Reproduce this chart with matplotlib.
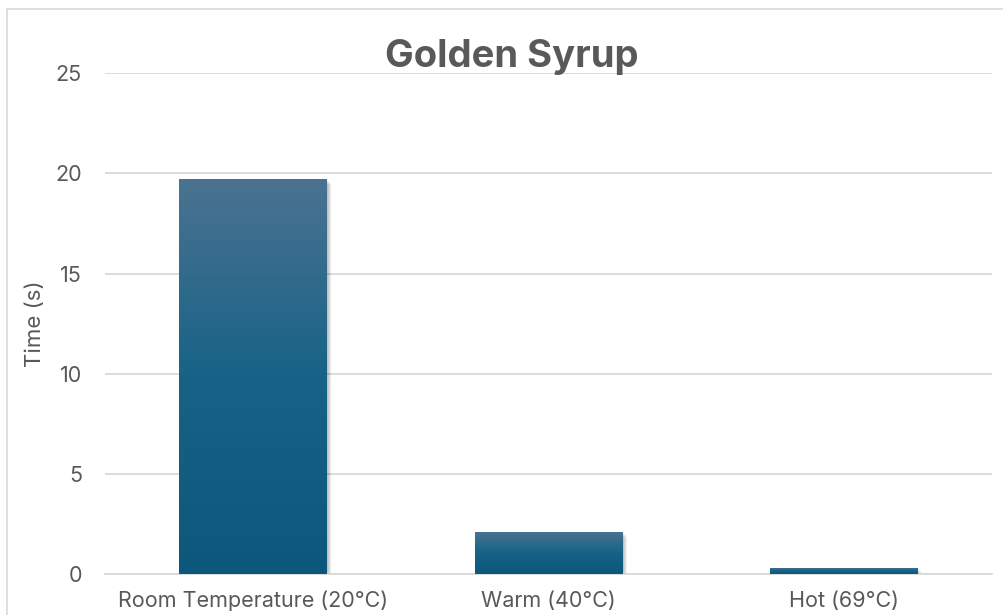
import numpy as np
import matplotlib

matplotlib.use("Agg")
import matplotlib.pyplot as plt
from matplotlib.colors import LinearSegmentedColormap
from matplotlib.patches import Rectangle
import matplotlib.transforms as mtransforms

categories = ["Room Temperature (20°C)", "Warm (40°C)", "Hot (69°C)"]
times = [19.7, 2.1, 0.3]
y_ticks = [0, 5, 10, 15, 20, 25]

TEXT = "#595959"
GRID = "#d9d9d9"
plt.rcParams["font.family"] = ["Inter", "DejaVu Sans"]

fig = plt.figure(figsize=(10.04, 6.15), dpi=100)
ax = fig.add_axes([105 / 1004, 1 - 574.3 / 615, (992 - 105) / 1004, (574.3 - 73) / 615])

# chart border
fig.patches.append(Rectangle((7 / 1004, -0.1), 1.2, 1 - 9 / 615 + 0.1, transform=fig.transFigure,
                             fill=False, edgecolor=GRID, linewidth=1.2))

gradient = LinearSegmentedColormap.from_list(
    "bar", [(0.0, "#0c587c"), (0.5, "#176387"), (1.0, "#4b7391")])

width = 0.5
x = np.arange(len(categories))
bars = ax.bar(x, times, width, color="none", zorder=3)

for bar in bars:
    x0, y0 = bar.get_x(), bar.get_y()
    w, h = bar.get_width(), bar.get_height()
    # soft shadow
    for k in range(1, 7):
        offset = mtransforms.offset_copy(ax.transData, fig=fig, x=0.5 + k * 0.7, y=-(0.5 + k * 0.7), units="dots")
        ax.add_patch(Rectangle((x0, y0), w, h, transform=offset, facecolor="black",
                               alpha=0.045, edgecolor="none", zorder=2))
    grad = np.linspace(0, 1, 256).reshape(-1, 1)
    img = ax.imshow(grad, cmap=gradient, origin="lower", aspect="auto",
                    extent=(x0, x0 + w, y0, y0 + h), zorder=3)
    img.set_clip_path(bar)

ax.set_xlim(-0.5, len(categories) - 0.5)
ax.set_ylim(0, 25)
ax.set_yticks(y_ticks)
ax.set_xticks(x, categories)
ax.tick_params(axis="y", length=0, pad=16.5, labelsize=15.5, labelcolor=TEXT)
ax.tick_params(axis="x", length=0, pad=12, labelsize=15.5, labelcolor=TEXT)
ax.grid(True, axis="y", color=GRID, linewidth=1.3, zorder=0)
ax.set_axisbelow(True)
for side in ["top", "right", "left"]:
    ax.spines[side].set_visible(False)
ax.spines["bottom"].set_color(GRID)
ax.spines["bottom"].set_linewidth(1.3)

ax.set_ylabel("Time (s)", fontsize=16, color=TEXT)
ax.yaxis.set_label_coords(-0.068, 0.5)
fig.text(0.51, 1 - 67 / 615, "Golden Syrup", ha="center", va="baseline",
         fontsize=27.5, fontweight="bold", color=TEXT)

fig.savefig("out.png", dpi=100)
